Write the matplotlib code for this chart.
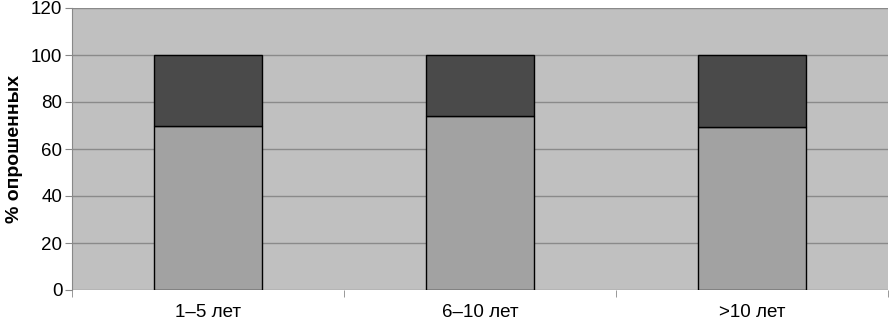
import matplotlib
matplotlib.use('Agg')
import matplotlib.pyplot as plt
import numpy as np

plt.rcParams['font.family'] = ['Liberation Sans', 'DejaVu Sans']

# data
categories = ['1–5 лет', '6–10 лет', '>10 лет']
lower_values = [70, 74, 69.5]
upper_values = [30, 26, 30.5]
y_ticks = [0, 20, 40, 60, 80, 100, 120]

fig = plt.figure(figsize=(8.91, 3.23), dpi=100)
ax = fig.add_axes([72 / 891, 33 / 323, 816 / 891, 282 / 323])
ax.set_facecolor('#c0c0c0')

x = np.arange(len(categories))
ax.bar(x, lower_values, width=0.4, color='#a2a2a2', edgecolor='black', linewidth=1, zorder=3)
ax.bar(x, upper_values, width=0.4, bottom=lower_values, color='#4a4a4a',
       edgecolor='black', linewidth=1, zorder=3)

ax.set_xlim(-0.5, len(categories) - 0.5)
ax.set_ylim(0, 120)
ax.set_yticks(y_ticks)
ax.yaxis.grid(True, color='#8a8a8a', linewidth=1, zorder=0)

# category labels between tick marks at boundaries
ax.set_xticks(x)
ax.set_xticklabels(categories, fontsize=13.5)
ax.tick_params(axis='x', length=0, pad=10)
ax.set_xticks(np.arange(len(categories) + 1) - 0.5, minor=True)
ax.tick_params(axis='x', which='minor', length=5, color='#888888', direction='out')
ax.tick_params(axis='y', labelsize=13.5, length=5, color='#888888', pad=2)

for s in ['top', 'right', 'bottom']:
    ax.spines[s].set_visible(False)
ax.spines['left'].set_color('#888888')

ax.set_ylabel('% опрошенных', fontsize=14, fontweight='bold', labelpad=6)

fig.savefig('out.png', dpi=100)
